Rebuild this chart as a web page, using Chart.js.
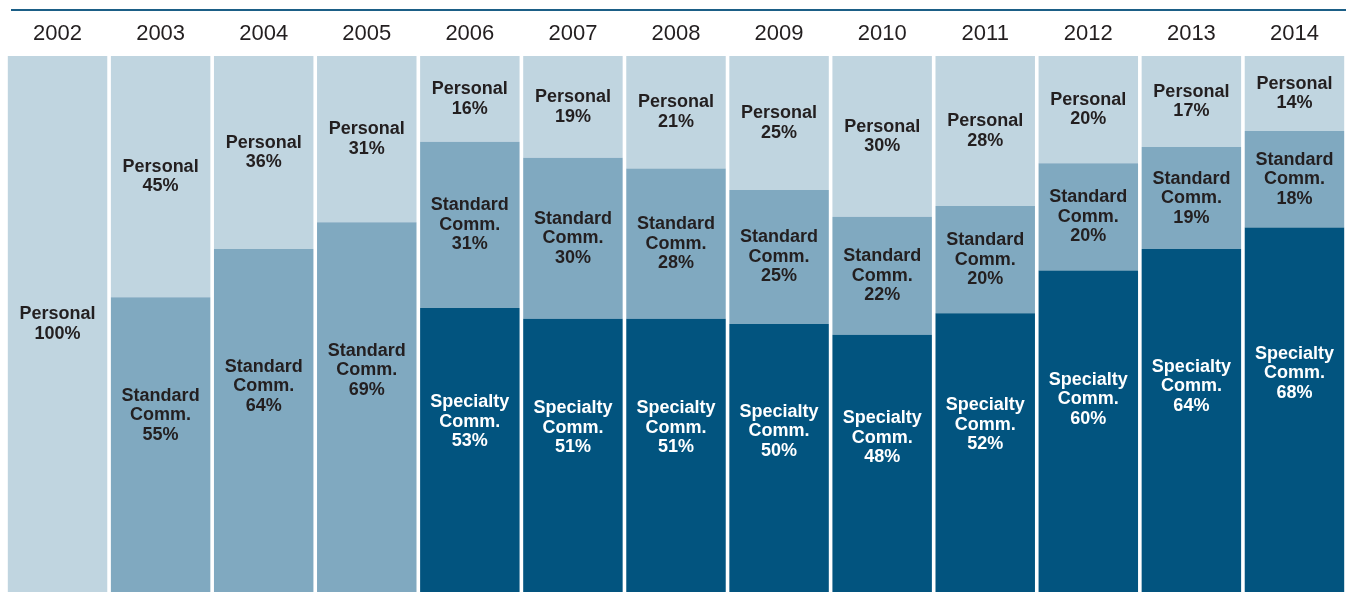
<!DOCTYPE html>
<html>
<head>
<meta charset="utf-8">
<script src="https://cdn.jsdelivr.net/npm/chart.js@4"></script>
<style>
  html, body { margin: 0; padding: 0; background: #fff; }
  #wrap { width: 1349px; height: 592px; position: relative; }
</style>
</head>
<body>
<div id="wrap"><canvas id="canvas"></canvas></div>
<script>
let years = [ '2002', '2003', '2004', '2005', '2006', '2007', '2008', '2009', '2010', '2011', '2012', '2013', '2014' ];
let personal  = [ 100, 45, 36, 31, 16, 19, 21, 25, 30, 28, 20, 17, 14 ];
let standard  = [   0, 55, 64, 69, 31, 30, 28, 25, 22, 20, 20, 19, 18 ];
let specialty = [   0,  0,  0,  0, 53, 51, 51, 50, 48, 52, 60, 64, 68 ];

// text drawn inside each segment
let segmentLabels = {
  id: 'segmentLabels',
  beforeDraw(chart) {
    // thin rule across the top
    let ctx = chart.ctx;
    ctx.save();
    ctx.strokeStyle = '#1b5e86';
    ctx.lineWidth = 2;
    ctx.beginPath();
    ctx.moveTo(11, 10);
    ctx.lineTo(1346, 10);
    ctx.stroke();
    ctx.restore();
  },
  afterDatasetsDraw(chart) {
    let ctx = chart.ctx;
    let area = chart.chartArea;
    ctx.save();
    ctx.font = 'bold 18px "Liberation Sans", Arial, sans-serif';
    ctx.textAlign = 'center';
    ctx.textBaseline = 'middle';
    chart.data.datasets.forEach((ds, di) => {
      let meta = chart.getDatasetMeta(di);
      meta.data.forEach((bar, i) => {
        let v = ds.data[i];
        if (!v) return;
        let top = Math.min(bar.y, bar.base);
        let bottom = Math.max(bar.y, bar.base);
        let atBottom = bottom >= area.bottom - 1 && v < 100;
        let cy = top + (bottom - top) * (atBottom ? 0.4 : 0.5);
        let lines = ds.labelLines.concat([v + '%']);
        let lh = 19.5;
        let y0 = cy - (lines.length - 1) * lh / 2;
        ctx.fillStyle = ds.textColor;
        lines.forEach((t, k) => ctx.fillText(t, bar.x, y0 + k * lh));
      });
    });
    ctx.restore();
  }
};

let options = {
  type: 'bar',
  data: {
    labels: years,
    datasets: [{
      label: 'Specialty Comm.',
      data: specialty,
      backgroundColor: '#02547f',
      labelLines: ['Specialty', 'Comm.'],
      textColor: '#ffffff',
      barPercentage: 0.965,
      categoryPercentage: 1.0
    }, {
      label: 'Standard Comm.',
      data: standard,
      backgroundColor: '#80a9c0',
      labelLines: ['Standard', 'Comm.'],
      textColor: '#231f20',
      barPercentage: 0.965,
      categoryPercentage: 1.0
    }, {
      label: 'Personal',
      data: personal,
      backgroundColor: '#c0d5e0',
      labelLines: ['Personal'],
      textColor: '#231f20',
      barPercentage: 0.965,
      categoryPercentage: 1.0
    }]
  },
  options: {
    responsive: true,
    maintainAspectRatio: false,
    animation: false,
    layout: { padding: { left: 6, right: 3, top: 0, bottom: 0 } },
    plugins: {
      legend: { display: false },
      tooltip: { enabled: false }
    },
    scales: {
      x: {
        position: 'top',
        stacked: true,
        grid: { display: false, drawTicks: false },
        border: { display: false },
        ticks: {
          color: '#231f20',
          padding: 9,
          font: { family: '"Liberation Sans", Arial, sans-serif', size: 22 }
        },
        afterFit(scale) { scale.height = 56; }
      },
      y: {
        display: false,
        stacked: true,
        min: 0,
        max: 100
      }
    }
  },
  plugins: [segmentLabels]
};

let chart = new Chart(document.getElementById('canvas'), options);
</script>
</body>
</html>
